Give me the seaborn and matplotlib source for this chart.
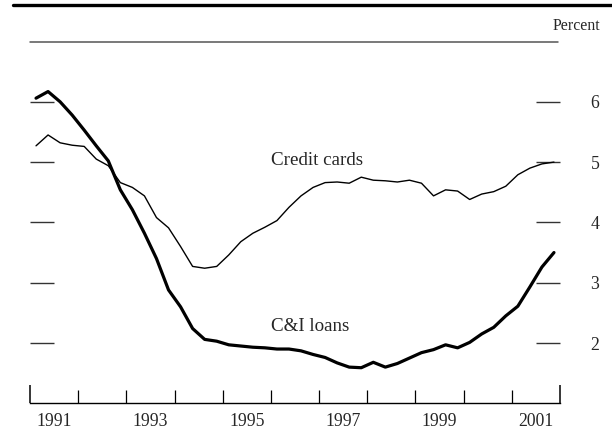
import matplotlib
matplotlib.use("Agg")
import matplotlib.pyplot as plt
from matplotlib.lines import Line2D
import numpy as np
import pandas as pd
import seaborn as sns

# Quarterly observations, 1991:Q1 through 2001:Q4
quarters = [f"{y}Q{q}" for y in range(1991, 2002) for q in range(1, 5)]

credit_cards = [
    5.27, 5.45, 5.32, 5.28, 5.26, 5.05, 4.94, 4.66, 4.58, 4.44, 4.08,
    3.91, 3.60, 3.27, 3.24, 3.27, 3.46, 3.68, 3.82, 3.92, 4.03, 4.25,
    4.44, 4.58, 4.66, 4.67, 4.65, 4.75, 4.70, 4.69, 4.67, 4.70, 4.65,
    4.44, 4.54, 4.52, 4.38, 4.47, 4.51, 4.60, 4.79, 4.90, 4.97, 5.00,
]

ci_loans = [
    6.06, 6.17, 6.00, 5.78, 5.53, 5.27, 5.02, 4.54, 4.21, 3.82, 3.40,
    2.88, 2.60, 2.24, 2.06, 2.03, 1.97, 1.95, 1.93, 1.92, 1.90, 1.90,
    1.87, 1.81, 1.76, 1.67, 1.60, 1.59, 1.68, 1.60, 1.66, 1.75, 1.84,
    1.89, 1.97, 1.92, 2.01, 2.15, 2.26, 2.45, 2.61, 2.93, 3.26, 3.50,
]

year_labels = ["1991", "1993", "1995", "1997", "1999", "2001"]
y_ticks = [2, 3, 4, 5, 6]

# Place each quarter at its midpoint on a decimal-year scale
def quarter_mid(label):
    year, q = label.split("Q")
    return int(year) + (int(q) - 1) * 0.25 + 0.125

t = [quarter_mid(q) for q in quarters]
df = pd.DataFrame({"t": t + t,
                   "value": credit_cards + ci_loans,
                   "series": ["Credit cards"] * len(t) + ["C&I loans"] * len(t)})

sns.set_style("white")
plt.rcParams["font.family"] = ["Liberation Serif", "DejaVu Serif"]

fig = plt.figure(figsize=(6.12, 4.30), dpi=100)
W, H = 612, 430
ax_left, ax_right = 30, 560
ax_bottom_px = 343 + 1.0 * 60.3
ax_top_px = 343 - 4.3 * 60.3
ax = fig.add_axes([ax_left / W, (H - ax_bottom_px) / H,
                   (ax_right - ax_left) / W, (ax_bottom_px - ax_top_px) / H])

sns.lineplot(data=df, x="t", y="value", hue="series", size="series",
             sizes={"Credit cards": 1.0, "C&I loans": 2.3},
             palette={"Credit cards": "black", "C&I loans": "black"},
             legend=False, ax=ax)

ax.set_xlim(1991, 2002)
ax.set_ylim(1.0, 6.3)
ax.set_xlabel("")
ax.set_ylabel("")

for side in ["left", "right", "top"]:
    ax.spines[side].set_visible(False)
ax.spines["bottom"].set_linewidth(1.0)
ax.spines["bottom"].set_color("black")

# Year boundaries as inward ticks, labels centred on each odd year
ax.set_xticks(range(1992, 2002))
ax.set_xticklabels([])
ax.set_xticks([int(y) + 0.5 for y in year_labels], minor=True)
ax.set_xticklabels(year_labels, minor=True, fontsize=12.7)
ax.tick_params(axis="x", which="major", direction="in", length=9.4,
               width=0.9, color="black", bottom=True)
ax.tick_params(axis="x", which="minor", length=0, pad=7, bottom=True)

# Taller ticks at both ends of the time axis
sec = ax.secondary_xaxis("bottom")
sec.set_xticks([1991, 2002])
sec.set_xticklabels([])
sec.tick_params(direction="in", length=13, width=1.1, color="black")
sec.spines["bottom"].set_visible(False)

# Percent scale: short dashes on both sides, numbers on the right
ax.set_yticks(y_ticks)
ax.yaxis.set_ticks_position("both")
ax.tick_params(axis="y", direction="in", length=17.5, width=1.0,
               color="#333333", left=True, right=True,
               labelleft=False, labelright=True, pad=22, labelsize=12.7)

ax.text(1996.0, 5.02, "Credit cards", fontsize=13.7, ha="left", va="center")
ax.text(1996.0, 2.28, "C&I loans", fontsize=13.7, ha="left", va="center")

fig.text(600 / W, 1 - 26 / H, "Percent", fontsize=11.4, ha="right", va="center")

# Rules above the panel
fig.add_artist(Line2D([13 / W, 1.0], [1 - 5 / H, 1 - 5 / H],
                      color="black", linewidth=2.4))
fig.add_artist(Line2D([30 / W, 558 / W], [1 - 42 / H, 1 - 42 / H],
                      color="#555555", linewidth=1.1))

fig.savefig("out.png", dpi=100)
